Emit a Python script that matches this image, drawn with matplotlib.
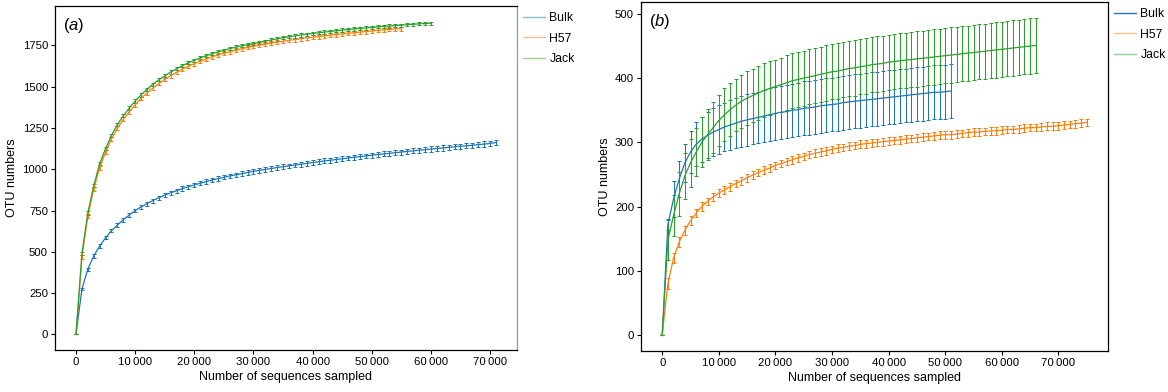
import numpy as np
import matplotlib
matplotlib.use("Agg")
import matplotlib.pyplot as plt
from matplotlib.lines import Line2D
from matplotlib.ticker import FuncFormatter, MultipleLocator

plt.rcParams["font.family"] = ["Liberation Sans", "DejaVu Sans"]
plt.rcParams["mathtext.fontset"] = "custom"
plt.rcParams["mathtext.rm"] = "Liberation Sans"
plt.rcParams["mathtext.it"] = "Liberation Sans:italic"

# sampling depth between rarefaction points
step = 1000

labels = ["Bulk", "H57", "Jack"]
colors = ["#1f77b4", "#ff7f0e", "#2ca02c"]

# (a) mean OTU numbers, one value per 1000 sequences
bulk_a = [0, 275, 395, 475, 535, 585, 628, 662, 694, 723,
          750, 772, 792, 810, 827, 843, 857, 870, 883, 894,
          905, 915, 925, 934, 943, 951, 959, 966, 973, 980,
          987, 993, 999, 1004, 1010, 1015, 1020, 1025, 1030, 1035,
          1040, 1045, 1050, 1054, 1059, 1063, 1068, 1072, 1076, 1080,
          1085, 1089, 1093, 1096, 1100, 1104, 1108, 1111, 1115, 1118,
          1122, 1125, 1129, 1132, 1136, 1139, 1142, 1145, 1149, 1152,
          1156, 1162]
bulk_a_err = [0, 8, 9, 10, 10, 10, 11, 11, 11, 11,
              12, 12, 12, 12, 12, 12, 12, 13, 13, 13,
              13, 13, 13, 13, 13, 13, 14, 14, 14, 14,
              14, 14, 14, 14, 14, 14, 14, 14, 14, 15,
              15, 15, 15, 15, 15, 15, 15, 15, 15, 15,
              15, 15, 15, 15, 15, 15, 15, 15, 15, 15,
              16, 16, 16, 16, 16, 16, 16, 16, 16, 16,
              16, 16]

h57_a = [0, 470, 715, 880, 1010, 1103, 1183, 1248, 1302, 1348,
         1390, 1428, 1462, 1492, 1519, 1544, 1567, 1587, 1606, 1623,
         1639, 1654, 1667, 1680, 1691, 1702, 1711, 1720, 1729, 1737,
         1744, 1751, 1757, 1763, 1769, 1774, 1780, 1785, 1790, 1795,
         1799, 1803, 1807, 1811, 1815, 1819, 1823, 1826, 1830, 1833,
         1837, 1840, 1843, 1846, 1849, 1851]
h57_a_err = [0, 12, 12, 12, 12, 12, 12, 12, 12, 12,
             12, 12, 12, 12, 12, 12, 12, 12, 12, 12,
             12, 12, 12, 12, 12, 12, 12, 12, 12, 12,
             12, 12, 12, 12, 12, 12, 12, 12, 12, 12,
             12, 12, 12, 12, 12, 12, 12, 12, 12, 12,
             12, 12, 12, 12, 12, 12]

jack_a = [0, 489, 735, 902, 1034, 1125, 1205, 1270, 1324, 1370,
          1412, 1450, 1484, 1514, 1541, 1565, 1588, 1608, 1627, 1644,
          1660, 1674, 1687, 1699, 1710, 1720, 1730, 1739, 1747, 1754,
          1760, 1768, 1775, 1782, 1789, 1796, 1802, 1807, 1812, 1817,
          1822, 1826, 1830, 1834, 1838, 1842, 1845, 1849, 1852, 1855,
          1858, 1862, 1865, 1867, 1870, 1872, 1875, 1877, 1880, 1882,
          1884]
jack_a_err = [0, 10, 10, 10, 10, 10, 10, 10, 10, 10,
              10, 10, 10, 10, 10, 10, 10, 10, 10, 10,
              10, 10, 10, 10, 10, 10, 10, 10, 10, 10,
              10, 10, 10, 10, 10, 10, 10, 10, 10, 10,
              10, 10, 10, 10, 10, 10, 10, 10, 10, 10,
              10, 10, 10, 10, 10, 10, 10, 10, 10, 10,
              10]

# (b) mean OTU numbers, one value per 1000 sequences
bulk_b = [0, 172, 212, 243, 268, 285, 297, 305, 311, 316,
          320, 324, 327, 330, 333, 335, 337, 339, 341, 343,
          345, 347, 348, 350, 351, 353, 354, 355, 357, 358,
          359, 360, 362, 363, 364, 365, 366, 367, 368, 369,
          370, 371, 372, 373, 374, 375, 376, 377, 378, 378,
          379, 380]
bulk_b_err = [0, 9, 28, 28, 30, 32, 34, 35, 36, 37,
              38, 38, 39, 39, 40, 40, 40, 40, 41, 41,
              41, 41, 41, 41, 41, 42, 42, 42, 42, 42,
              42, 42, 42, 42, 42, 42, 42, 42, 42, 42,
              42, 42, 42, 42, 42, 42, 42, 42, 42, 42,
              42, 42]

h57_b = [0, 80, 120, 145, 163, 178, 190, 200, 208, 215,
         221, 226, 231, 236, 240, 245, 249, 253, 257, 260,
         264, 267, 270, 273, 276, 278, 281, 283, 285, 287,
         289, 291, 292, 294, 295, 297, 298, 299, 300, 301,
         302, 303, 304, 305, 306, 307, 308, 309, 310, 311,
         312, 312, 313, 314, 315, 316, 316, 317, 318, 318,
         319, 320, 320, 321, 322, 323, 323, 324, 325, 325,
         326, 327, 328, 329, 330, 331]
h57_b_err = [0, 9, 8, 8, 7, 7, 7, 7, 6, 6,
             6, 6, 6, 6, 6, 6, 6, 6, 6, 6,
             6, 6, 6, 6, 6, 6, 6, 6, 6, 6,
             6, 6, 6, 6, 6, 6, 6, 6, 6, 6,
             6, 6, 6, 6, 6, 6, 6, 6, 6, 6,
             6, 6, 6, 6, 6, 6, 6, 6, 6, 6,
             6, 6, 6, 6, 6, 6, 6, 6, 6, 6,
             6, 6, 6, 6, 6, 6]

jack_b = [0, 148, 186, 220, 248, 268, 285, 300, 312, 323,
          334, 343, 351, 358, 364, 369, 373, 377, 381, 384,
          387, 390, 393, 396, 398, 400, 402, 404, 406, 408,
          410, 411, 413, 415, 416, 418, 419, 421, 422, 423,
          425, 426, 427, 428, 429, 430, 431, 432, 433, 434,
          435, 436, 437, 438, 439, 440, 441, 442, 443, 444,
          445, 446, 447, 448, 449, 450, 451]
jack_b_err = [0, 31, 32, 34, 36, 37, 38, 39, 40, 40,
              40, 41, 41, 41, 41, 42, 42, 42, 42, 42,
              42, 42, 43, 43, 43, 43, 43, 43, 43, 43,
              43, 43, 43, 43, 43, 43, 43, 43, 43, 43,
              43, 43, 43, 43, 43, 43, 43, 43, 43, 43,
              43, 43, 43, 43, 43, 43, 43, 43, 43, 43,
              43, 43, 43, 43, 43, 43, 43]

panel_a = [(bulk_a, bulk_a_err), (h57_a, h57_a_err), (jack_a, jack_a_err)]
panel_b = [(bulk_b, bulk_b_err), (h57_b, h57_b_err), (jack_b, jack_b_err)]


def thousands(v, pos):
    return f"{int(round(v)):,}".replace(",", "\u2009")


fig = plt.figure(figsize=(11.68, 3.92), dpi=100)
ax_a = fig.add_axes([0.0471, 0.107, 0.3955, 0.878])
ax_b = fig.add_axes([0.5488, 0.105, 0.3998, 0.890])

for ax, series, letter, ystep, legend_alpha in [
    (ax_a, panel_a, "a", 250, [0.5, 0.5, 0.5]),
    (ax_b, panel_b, "b", 100, [1.0, 0.5, 0.5]),
]:
    for (vals, errs), c in zip(series, colors):
        x = np.arange(len(vals)) * step
        ax.errorbar(x, vals, yerr=errs, color=c, lw=0.9, elinewidth=0.75,
                    capsize=1.5, capthick=0.75)

    ax.yaxis.set_major_locator(MultipleLocator(ystep))
    ax.xaxis.set_major_locator(MultipleLocator(10000))
    ax.xaxis.set_major_formatter(FuncFormatter(thousands))
    ax.tick_params(direction="out", length=3, width=0.8, pad=2, labelsize=8.2)
    ax.set_xlabel("Number of sequences sampled", fontsize=9, labelpad=3)
    ax.set_ylabel("OTU numbers", fontsize=9, labelpad=3)
    for s in ax.spines.values():
        s.set_linewidth(0.9)

    ax.text(0.018, 0.972, f"($\\mathit{{{letter}}}$)", transform=ax.transAxes,
            fontsize=12, va="top", ha="left")

    handles = [Line2D([], [], color=c, lw=1.0, alpha=a)
               for c, a in zip(colors, legend_alpha)]
    ax.legend(handles, labels, loc="upper left", bbox_to_anchor=(1.0, 1.0),
              frameon=False, fontsize=8.8, handlelength=1.8,
              handletextpad=0.35, labelspacing=0.7, borderaxespad=0.1)

ax_a.spines["right"].set_color("#999999")

fig.savefig("out.png", dpi=100)
